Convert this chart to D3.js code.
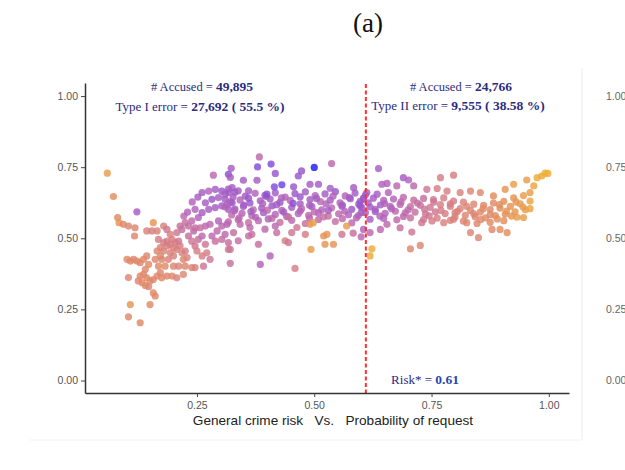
<!DOCTYPE html>
<html>
<head>
<meta charset="utf-8">
<script src="https://cdn.jsdelivr.net/npm/d3@7"></script>
<style>
  body { margin: 0; background: #fff; }
  svg { display: block; }
</style>
</head>
<body>
<svg id="chart" width="625" height="470"></svg>
<script>
// points: [general crime risk, probability of request, colour value]
const leftTail = [
  [.059,.729,.15],[.072,.647,.25],[.081,.573,.3],[.084,.555,.2],[.093,.549,.3],[.104,.543,.35],
  [.118,.537,.35],[.117,.508,.35],[.122,.593,.7],[.143,.526,.4],[.157,.555,.2],[.154,.526,.45],
  [.165,.526,.4],[.168,.496,.45],[.179,.543,.4],[.186,.531,.5],[.186,.490,.45],[.193,.514,.4],
  [.197,.496,.45],[.101,.426,.3],[.108,.420,.3],[.115,.426,.35],[.122,.420,.3],[.129,.414,.35],
  [.136,.426,.3],[.143,.438,.35],[.147,.408,.3],[.140,.391,.3],[.136,.373,.35],[.143,.361,.3],
  [.129,.367,.3],[.125,.350,.35],[.133,.344,.3],[.140,.334,.3],[.147,.330,.35],[.150,.350,.3],
  [.157,.355,.35],[.165,.367,.3],[.172,.379,.35],[.175,.361,.3],[.186,.367,.35],[.197,.367,.3],
  [.207,.361,.4],[.221,.373,.35],[.161,.297,.3],[.157,.308,.3],[.108,.267,.2],[.104,.224,.3],
  [.129,.203,.3],[.150,.267,.3],[.104,.362,.35],[.175,.426,.35],[.182,.402,.3],[.189,.426,.4],
  [.161,.426,.35],[.168,.402,.3],[.200,.402,.35],[.211,.402,.4],[.225,.402,.35],[.239,.397,.35],
  [.246,.397,.4],[.264,.402,.5],[.172,.467,.4],[.179,.455,.35],[.186,.473,.45],[.193,.449,.4],
  [.179,.485,.45],[.165,.455,.35],[.200,.438,.4],[.193,.479,.45],[.172,.438,.35]
];

const risingCluster = [
  [.204,.485,.45],[.200,.467,.4],[.211,.490,.5],[.207,.461,.4],[.214,.473,.45],[.218,.449,.4],
  [.225,.455,.45],[.229,.432,.4],[.221,.426,.35],[.232,.508,.55],[.239,.490,.5],[.243,.526,.6],
  [.246,.473,.5],[.253,.496,.55],[.250,.455,.45],[.261,.508,.6],[.268,.479,.5],[.261,.438,.45],
  [.271,.449,.45],[.278,.426,.5],[.282,.508,.6],[.289,.490,.55],[.293,.526,.6],[.303,.496,.55],
  [.310,.514,.6],[.317,.485,.55],[.321,.461,.5],[.314,.549,.65],[.303,.543,.6],[.296,.561,.65],
  [.278,.549,.6],[.268,.543,.6],[.257,.537,.55],[.246,.537,.55],[.239,.561,.6],[.253,.573,.65],
  [.225,.555,.55],[.218,.531,.55],[.232,.543,.55],[.207,.520,.5],[.214,.543,.55],[.222,.578,.6],
  [.230,.592,.65],[.246,.602,.65],[.261,.590,.7],[.275,.602,.7],[.289,.608,.7],[.303,.614,.7],
  [.317,.602,.7],[.268,.625,.7],[.282,.637,.75],[.296,.643,.7],[.310,.637,.7],[.325,.625,.75],
  [.261,.661,.7],[.275,.666,.65],[.289,.672,.7],[.303,.666,.75],[.317,.661,.7],[.325,.678,.7],
  [.285,.722,.6],[.317,.725,.8],[.240,.628,.65],[.252,.645,.7]
];

const middleBand = [
  [.310,.655,.7],[.331,.662,.75],[.353,.648,.7],[.374,.658,.65],[.395,.651,.75],[.417,.660,.7],
  [.438,.645,.65],[.459,.657,.75],[.481,.663,.7],[.502,.650,.65],[.523,.656,.7],[.545,.664,.75],
  [.566,.649,.65],[.587,.659,.7],[.609,.652,.7],
  [.321,.628,.7],[.342,.635,.65],[.363,.624,.75],[.385,.632,.7],[.406,.638,.7],[.427,.626,.75],
  [.449,.633,.65],[.470,.621,.7],[.491,.636,.7],[.513,.629,.6],[.534,.634,.7],[.555,.625,.65],
  [.577,.639,.7],[.598,.630,.75],
  [.310,.610,.65],[.331,.603,.7],[.349,.612,.7],[.370,.600,.6],[.388,.606,.7],[.410,.614,.75],
  [.431,.598,.65],[.452,.609,.7],[.473,.604,.6],[.495,.611,.7],[.516,.600,.65],[.537,.607,.6],
  [.559,.613,.7],[.580,.602,.75],[.601,.608,.7],
  [.324,.582,.6],[.346,.588,.65],[.367,.579,.6],[.392,.590,.7],[.417,.584,.65],[.441,.577,.6],
  [.466,.587,.65],[.488,.581,.6],[.509,.589,.65],[.530,.578,.55],[.552,.586,.6],[.573,.583,.65],
  [.594,.580,.6],
  [.317,.558,.6],[.338,.565,.6],[.360,.555,.55],[.381,.562,.6],[.402,.568,.65],[.427,.556,.55],
  [.452,.563,.6],[.481,.552,.55],[.509,.566,.6],[.545,.559,.55],[.580,.554,.6],
  [.327,.645,.7],[.360,.641,.75],[.398,.647,.7],[.430,.642,.65],[.470,.646,.75],[.505,.640,.7],
  [.540,.648,.65],[.575,.643,.7],[.605,.641,.8],
  [.315,.620,.65],[.350,.617,.7],[.390,.622,.65],[.420,.618,.7],[.455,.623,.8],[.490,.616,.7],
  [.525,.621,.65],[.560,.617,.7],[.595,.620,.75],
  [.330,.597,.65],[.365,.594,.7],[.400,.599,.6],[.435,.592,.7],[.470,.596,.65],[.500,.593,.6],
  [.530,.598,.7],[.565,.595,.65],[.600,.590,.7],
  [.340,.572,.6],[.375,.574,.65],[.410,.570,.6],[.445,.575,.55],[.490,.571,.6],[.520,.575,.55],
  [.560,.569,.6],[.590,.572,.65]
];

const upperOutliers = [
  [.383,.786,.6],[.379,.751,.85],[.408,.761,.85],[.417,.728,.75],[.466,.719,.75],[.473,.737,.75],
  [.500,.749,1.0],[.537,.763,.6],[.415,.681,.85],[.431,.688,.9],[.456,.681,.75],[.491,.690,.7],
  [.509,.690,.7],[.534,.676,.7],[.584,.678,.7],[.323,.746,.7],[.321,.714,.7],[.349,.704,.7],
  [.378,.704,.7],[.317,.673,.7],[.338,.667,.7],[.360,.667,.7],[.399,.655,.8]
];

const lowerOutliers = [
  [.342,.549,.6],[.328,.520,.55],[.363,.538,.6],[.367,.514,.55],[.395,.532,.6],[.417,.543,.6],
  [.420,.520,.55],[.452,.520,.5],[.463,.538,.5],[.491,.549,.2],[.498,.555,.15],[.481,.514,.45],
  [.520,.508,.2],[.527,.514,.2],[.569,.543,.15],[.523,.479,.2],[.541,.479,.2],[.493,.461,.15],
  [.438,.491,.45],[.445,.485,.5],[.406,.438,.65],[.385,.408,.65],[.459,.394,.45],[.321,.412,.55],
  [.317,.461,.5],[.338,.491,.55],[.360,.508,.55],[.381,.479,.55],[.559,.514,.5],[.583,.518,.55],
  [.600,.505,.6]
];

const rightBand = [
  [.637,.745,.7],[.690,.713,.7],[.701,.705,.65],[.769,.713,.45],[.797,.722,.45],[.907,.672,.2],
  [.925,.690,.15],[.953,.705,.15],[.968,.684,.1],[.985,.719,.05],[.992,.729,.03],[.998,.728,.03],
  [.975,.713,.05],[.960,.661,.15],[.644,.690,.65],[.655,.693,.65],[.676,.684,.6],[.712,.684,.6],
  [.740,.672,.5],[.762,.675,.45],[.783,.666,.45],[.811,.661,.4],[.833,.666,.35],[.854,.661,.3],
  [.882,.649,.25],[.612,.661,.7],[.634,.655,.7],[.658,.661,.65],
  [.605,.637,.7],[.626,.641,.7],[.648,.633,.65],[.669,.638,.65],[.690,.644,.6],[.712,.634,.55],
  [.733,.640,.55],[.754,.636,.5],[.776,.642,.45],[.797,.631,.45],[.818,.627,.4],[.840,.620,.35],
  [.861,.616,.3],[.882,.624,.3],[.904,.630,.25],[.925,.642,.2],[.946,.650,.15],
  [.598,.614,.75],[.619,.610,.7],[.641,.617,.7],[.662,.612,.65],[.683,.619,.6],[.705,.611,.55],
  [.726,.616,.55],[.747,.609,.5],[.769,.618,.45],[.790,.612,.45],[.811,.604,.4],[.833,.598,.35],
  [.854,.592,.3],[.875,.601,.3],[.896,.606,.25],[.918,.612,.2],[.939,.621,.15],[.960,.631,.1],
  [.609,.590,.7],[.630,.594,.7],[.651,.588,.65],[.673,.595,.6],[.694,.589,.6],[.715,.592,.55],
  [.737,.586,.5],[.758,.593,.5],[.779,.587,.45],[.800,.590,.4],[.822,.581,.35],[.843,.576,.35],
  [.865,.572,.3],[.886,.580,.25],[.907,.585,.25],[.928,.593,.2],[.950,.600,.15],
  [.619,.567,.7],[.648,.570,.65],[.676,.565,.6],[.705,.572,.55],[.733,.566,.5],[.762,.571,.45],
  [.790,.563,.4],[.818,.560,.35],[.847,.552,.35],[.875,.556,.3],[.904,.562,.25],[.932,.574,.15],
  [.615,.625,.7],[.650,.622,.65],[.685,.628,.6],[.720,.624,.55],[.755,.627,.5],[.790,.621,.45],
  [.825,.612,.35],[.860,.604,.3],[.895,.618,.25],[.930,.628,.2],
  [.630,.602,.7],[.665,.604,.65],[.700,.600,.6],[.735,.603,.5],[.770,.598,.45],[.805,.594,.4],
  [.840,.586,.35],[.875,.583,.3],[.910,.596,.2],[.945,.610,.15],
  [.640,.578,.65],[.690,.577,.6],[.745,.579,.5],[.800,.575,.4],[.855,.566,.3],[.890,.568,.25],
  [.920,.578,.2],
  [.605,.531,.65],[.619,.520,.6],[.641,.531,.6],[.655,.549,.6],[.683,.537,.55],[.708,.522,.5],
  [.729,.555,.5],[.751,.561,.45],[.776,.555,.4],[.797,.567,.4],[.825,.555,.35],[.833,.520,.35],
  [.850,.502,.35],[.879,.531,.3],[.896,.531,.25],[.911,.520,.25],[.946,.573,.15],[.960,.604,.1],
  [.705,.463,.35],[.726,.475,.35],[.623,.463,.05],[.619,.438,.05]
];

const xTicks = [0.25, 0.50, 0.75, 1.00];
const yTicks = [0.00, 0.25, 0.50, 0.75, 1.00];
const riskStar = 0.61;

const svg = d3.select("#chart");
const sans = "'Liberation Sans', Arial, sans-serif";
const serif = "'Liberation Serif', 'Times New Roman', serif";

const x = d3.scaleLinear().domain([0.0114, 1.043]).range([85, 569]);
const y = d3.scaleLinear().domain([-0.044, 1.046]).range([393, 83]);
const colour = d3.scaleLinear()
  .domain([0, 0.25, 0.45, 0.62, 0.88, 1])
  .range(["#f0b22e", "#e38d5c", "#d67d84", "#b865b4", "#7a48e2", "#1c1cf2"]);

// title
svg.append("text").attr("x", 368).attr("y", 32).attr("text-anchor", "middle")
  .style("font-family", serif).style("font-size", "27px").attr("fill", "#111").text("(a)");

// faint edges of the neighbouring panel / screenshot
svg.append("line").attr("x1", 582).attr("x2", 582).attr("y1", 68).attr("y2", 440)
  .attr("stroke", "#ececec").attr("stroke-width", 1);
svg.append("line").attr("x1", 30).attr("x2", 582).attr("y1", 440).attr("y2", 440)
  .attr("stroke", "#f2f2f2").attr("stroke-width", 1);
svg.selectAll("text.ghost").data(yTicks).enter().append("text")
  .attr("class", "ghost").attr("x", 606).attr("y", d => y(d) + 3.5)
  .style("font-family", sans).style("font-size", "10.5px").attr("fill", "#666")
  .text(d3.format(".2f"));

// points
const allPoints = [].concat(leftTail, risingCluster, middleBand, lowerOutliers, rightBand, upperOutliers);
svg.append("g").selectAll("circle").data(allPoints).enter().append("circle")
  .attr("cx", d => x(d[0])).attr("cy", d => y(d[1])).attr("r", 3.6)
  .attr("fill", d => colour(d[2])).attr("fill-opacity", 0.82);

// cut-off line
svg.append("line").attr("x1", x(riskStar)).attr("x2", x(riskStar))
  .attr("y1", 84).attr("y2", 393)
  .attr("stroke", "#ff3030").attr("stroke-width", 2).attr("stroke-dasharray", "4,2.5");

// axes
const xAxis = svg.append("g").attr("transform", "translate(0,393)")
  .call(d3.axisBottom(x).tickValues(xTicks).tickFormat(d3.format(".2f")).tickSize(4).tickSizeOuter(0));
const yAxis = svg.append("g").attr("transform", "translate(85,0)")
  .call(d3.axisLeft(y).tickValues(yTicks).tickFormat(d3.format(".2f")).tickSize(4).tickSizeOuter(0));
[xAxis, yAxis].forEach(g => {
  g.select(".domain").attr("stroke", "#333").attr("stroke-width", 1.5);
  g.selectAll(".tick line").attr("stroke", "#444");
  g.selectAll(".tick text").attr("fill", "#555").style("font-family", sans).style("font-size", "10.5px");
});
xAxis.selectAll(".tick text").attr("dy", "0.85em");

svg.append("text").attr("x", 333).attr("y", 425).attr("text-anchor", "middle")
  .style("font-family", sans).style("font-size", "13.6px").attr("fill", "#222")
  .attr("xml:space", "preserve")
  .text("General crime risk   Vs.   Probability of request");

// annotations
const note = (cx, cy, parts) => {
  const t = svg.append("text").attr("x", cx).attr("y", cy).attr("text-anchor", "middle")
    .style("font-family", serif).attr("fill", "#2b2b80").attr("xml:space", "preserve");
  parts.forEach(p => t.append("tspan").style("font-size", p[1] + "px")
    .style("font-weight", p[2] ? "bold" : "normal").attr("fill", p[3] || null).text(p[0]));
};
note(202, 91, [["# Accused = ", 12.5], ["49,895", 13.5, true]]);
note(200, 111, [["Type I error = ", 13], ["27,692 ( 55.5 %)", 13.5, true]]);
note(461, 91, [["# Accused = ", 12.5], ["24,766", 13.5, true]]);
note(458, 110, [["Type II error = ", 13], ["9,555 ( 38.58 %)", 13.5, true]]);
note(425, 384, [["Risk* = ", 13], ["0.61", 13.5, true, "#2a46b0"]]);
</script>
</body>
</html>
